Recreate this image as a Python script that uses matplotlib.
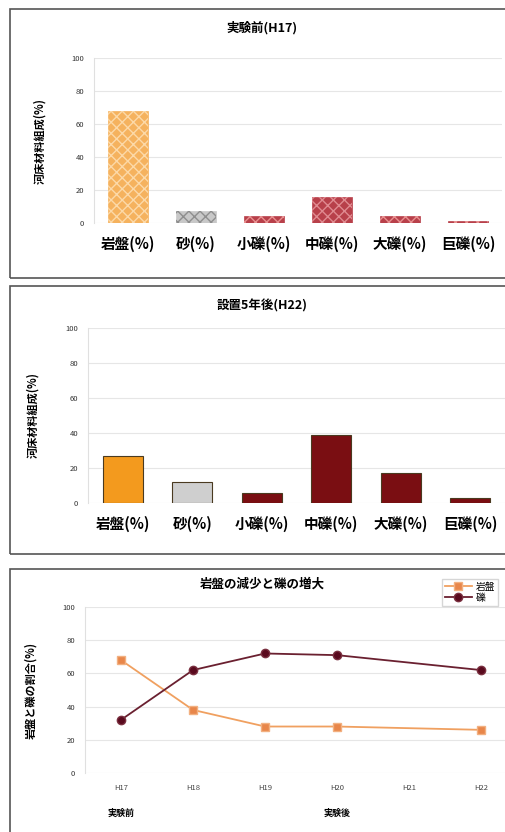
import matplotlib
matplotlib.use("Agg")
from matplotlib import pyplot as plt
from matplotlib.patches import Rectangle
import numpy as np

plt.rcParams['font.family'] = ['Noto Sans CJK JP', 'DejaVu Sans']

# data
categories = ["岩盤(%)", "砂(%)", "小礫(%)", "中礫(%)", "大礫(%)", "巨礫(%)"]
before_h17 = [68, 7, 4, 16, 4, 1]
after_h22 = [27, 12, 6, 39, 17, 3]

years = ["H17", "H18", "H19", "H20", "H21", "H22"]
bedrock = [68, 38, 28, 28, np.nan, 26]
gravel = [32, 62, 72, 71, np.nan, 62]

fill_before = ["#F5B25E", "#C8C8C8", "#B8404A", "#B8404A", "#B8404A", "#B8404A"]
hatch_before = ["#FCD9A8", "#8E8E8E", "#E89090", "#E08A90", "#E89090", "#E89090"]
fill_after = ["#F39A1E", "#CFCFCF", "#7A0E12", "#7A0E12", "#7A0E12", "#7A0E12"]

W, H = 505, 832
fig = plt.figure(figsize=(W / 100, H / 100), dpi=100)


def fx(px):
    return px / W


def fy(py):
    return 1 - py / H


# panel frames
for top, bot in [(9, 278), (286, 554), (569, 836)]:
    fig.patches.append(Rectangle((fx(10), fy(bot)), 1.0, fy(top) - fy(bot),
                                 transform=fig.transFigure, fill=False,
                                 edgecolor="#555555", linewidth=1.2))


def style_axis(ax):
    ax.set_ylim(0, 100)
    ax.set_yticks([0, 20, 40, 60, 80, 100])
    ax.tick_params(axis='y', labelsize=5.5, length=0, colors="#333333", pad=7)
    ax.grid(axis='y', color="#E6E6E6", linewidth=0.8)
    ax.set_axisbelow(True)
    for s in ["top", "right", "bottom"]:
        ax.spines[s].set_visible(False)
    ax.spines["left"].set_color("#E0E0E0")


# panel 1
ax1 = fig.add_axes([fx(94), fy(223), fx(502) - fx(94), fy(58) - fy(223)])
x = np.arange(len(categories))
ax1.bar(x, before_h17, width=0.58, color=fill_before, edgecolor=fill_before, linewidth=0.5)
for i in range(len(categories)):
    ax1.bar(x[i], before_h17[i], width=0.58, facecolor="none",
            edgecolor=hatch_before[i], hatch="xxx", linewidth=0)
ax1.set_xlim(-0.5, 5.5)
style_axis(ax1)
ax1.set_xticks(x)
ax1.set_xticklabels(categories, fontsize=10.5, fontweight="bold")
ax1.tick_params(axis='x', length=0, pad=9)
ax1.set_ylabel("河床材料組成(%)", fontsize=8, fontweight="bold", labelpad=18)
fig.text(fx(262), fy(28), "実験前(H17)", ha="center", va="center", fontsize=9, fontweight="bold")

# panel 2
ax2 = fig.add_axes([fx(88), fy(503), fx(505) - fx(88), fy(328) - fy(503)])
ax2.bar(x, after_h22, width=0.58, color=fill_after, edgecolor="#4A3A20", linewidth=0.8)
ax2.set_xlim(-0.5, 5.5)
style_axis(ax2)
ax2.set_xticks(x)
ax2.set_xticklabels(categories, fontsize=10.5, fontweight="bold")
ax2.tick_params(axis='x', length=0, pad=9)
ax2.set_ylabel("河床材料組成(%)", fontsize=8, fontweight="bold", labelpad=19)
fig.text(fx(262), fy(306), "設置5年後(H22)", ha="center", va="center", fontsize=9, fontweight="bold")

# panel 3
ax3 = fig.add_axes([fx(85), fy(773), fx(517) - fx(85), fy(607) - fy(773)])
xy = np.arange(len(years))
m1 = ~np.isnan(bedrock)
m2 = ~np.isnan(gravel)
ax3.plot(xy[m1], np.array(bedrock)[m1], color="#F0A060", linewidth=1.3, marker="s",
         markersize=6, markerfacecolor="#E8864A", markeredgecolor="#F2B080", label="岩盤")
ax3.plot(xy[m2], np.array(gravel)[m2], color="#6A2030", linewidth=1.3, marker="o",
         markersize=6, markerfacecolor="#5A0A1E", markeredgecolor="#7A3040", label="礫")
ax3.set_xlim(-0.5, 5.5)
style_axis(ax3)
ax3.set_xticks(xy)
ax3.set_xticklabels(years, fontsize=5.5, color="#444444")
ax3.tick_params(axis='x', length=0, pad=8)
ax3.set_ylabel("岩盤と礫の割合(%)", fontsize=8, fontweight="bold", labelpad=18)
fig.text(fx(121), fy(813), "実験前", ha="center", va="center", fontsize=6.5, fontweight="bold")
fig.text(fx(337), fy(813), "実験後", ha="center", va="center", fontsize=6.5, fontweight="bold")
fig.text(fx(262), fy(584), "岩盤の減少と礫の増大", ha="center", va="center", fontsize=9, fontweight="bold")
fig.legend(loc="upper right", bbox_to_anchor=(fx(503), fy(574)), fontsize=7,
           frameon=True, edgecolor="#CCCCCC", fancybox=False, handlelength=2.8,
           borderpad=0.3, labelspacing=0.1, handletextpad=0.4)

fig.savefig("out.png", dpi=100)
